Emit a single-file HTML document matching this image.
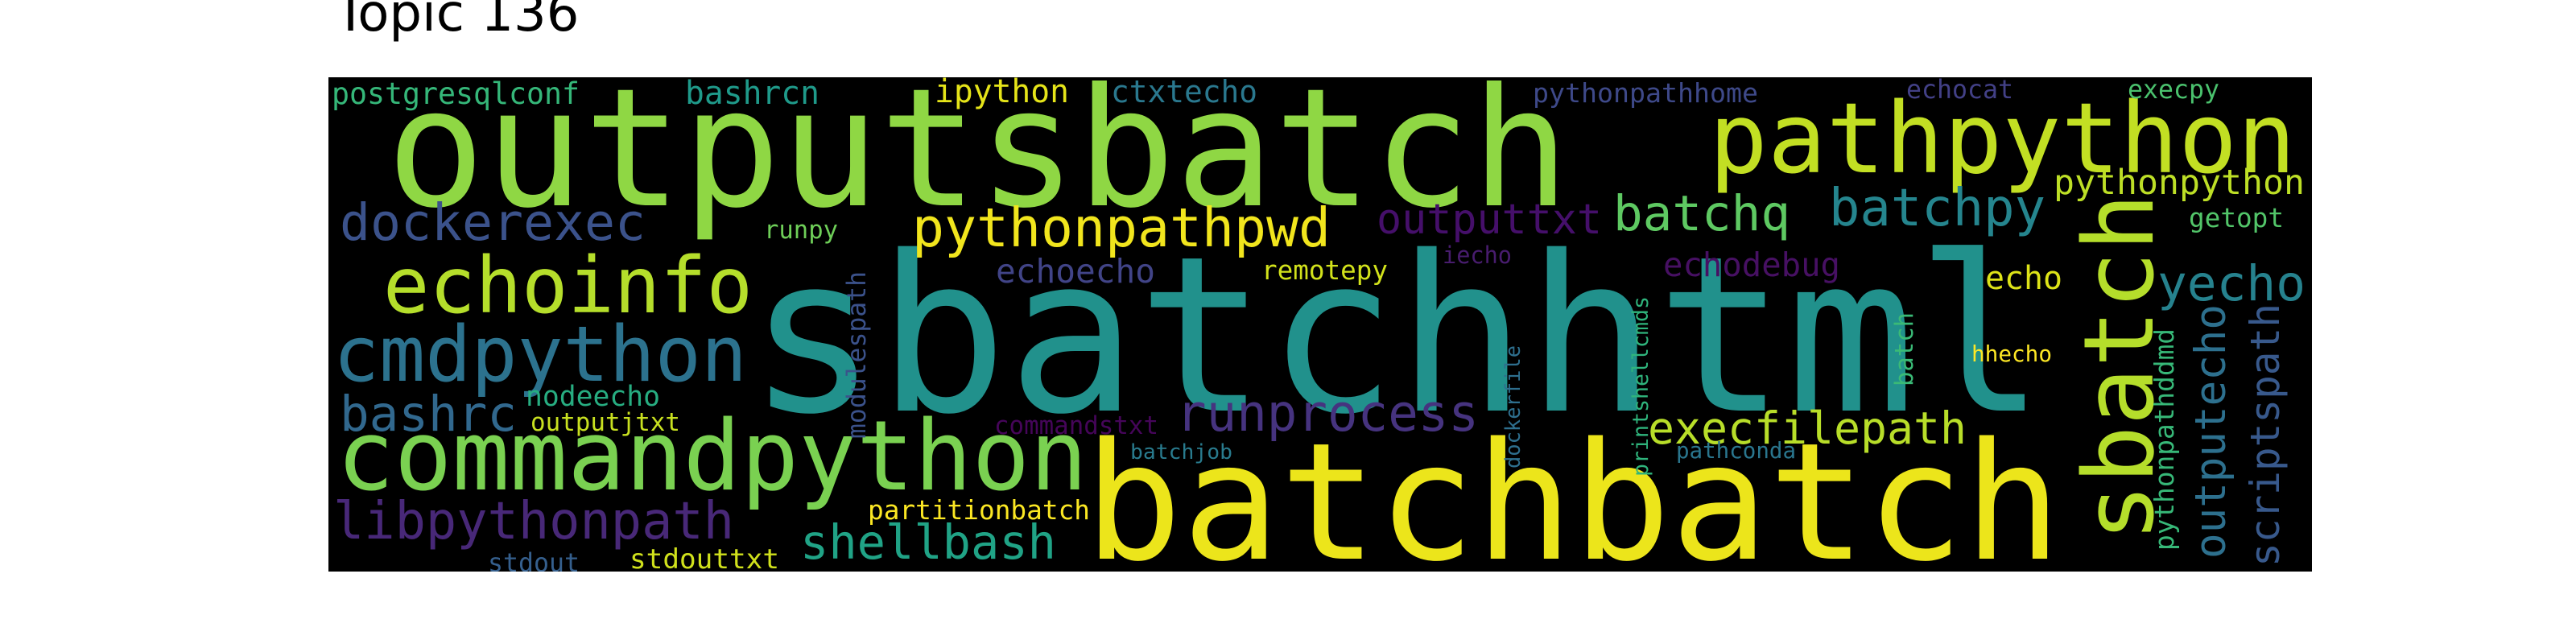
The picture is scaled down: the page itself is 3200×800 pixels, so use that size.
<!DOCTYPE html>
<html><head><meta charset="utf-8"><style>html,body{margin:0;padding:0;background:#fff;width:3200px;height:800px;overflow:hidden}</style></head>
<body>
<svg width="3200" height="800" xmlns="http://www.w3.org/2000/svg">
<defs><clipPath id="c"><rect x="408" y="96" width="2464" height="614"/></clipPath></defs>
<text x="416" y="38" font-family="DejaVu Sans, sans-serif" font-size="64" fill="#000">Topic 136</text>
<rect x="408" y="96" width="2464" height="614" fill="#000"/>
<g clip-path="url(#c)" font-family="DejaVu Sans Mono, Liberation Mono, monospace">
<text x="480" y="255" font-size="204" fill="#8fd744" textLength="1470" lengthAdjust="spacingAndGlyphs">outputsbatch</text>
<text x="929" y="510" font-size="269" fill="#21918c" textLength="1612" lengthAdjust="spacingAndGlyphs">sbatchhtml</text>
<text x="1347" y="694" font-size="202" fill="#ece51b" textLength="1214" lengthAdjust="spacingAndGlyphs">batchbatch</text>
<text x="2123" y="214" font-size="121" fill="#c2df23" textLength="729" lengthAdjust="spacingAndGlyphs">pathpython</text>
<text x="418" y="608" font-size="120" fill="#7ad151" textLength="933" lengthAdjust="spacingAndGlyphs">commandpython</text>
<text x="414" y="473" font-size="95" fill="#2c728e" textLength="514" lengthAdjust="spacingAndGlyphs">cmdpython</text>
<text x="476" y="388" font-size="96" fill="#b5de2b" textLength="459" lengthAdjust="spacingAndGlyphs">echoinfo</text>
<text x="422" y="298" font-size="63" fill="#3b528b" textLength="380" lengthAdjust="spacingAndGlyphs">dockerexec</text>
<text x="1133" y="306" font-size="67" fill="#f1e51d" textLength="520" lengthAdjust="spacingAndGlyphs">pythonpathpwd</text>
<text x="2004" y="286" font-size="61" fill="#5ec962" textLength="220" lengthAdjust="spacingAndGlyphs">batchq</text>
<text x="2272" y="280" font-size="64" fill="#25858e" textLength="269" lengthAdjust="spacingAndGlyphs">batchpy</text>
<text x="2680" y="373" font-size="61" fill="#26828e" textLength="184" lengthAdjust="spacingAndGlyphs">yecho</text>
<text x="2551" y="241" font-size="43" fill="#bddf26" textLength="312" lengthAdjust="spacingAndGlyphs">pythonpython</text>
<text x="1710" y="290" font-size="52" fill="#450f6a" textLength="280" lengthAdjust="spacingAndGlyphs">outputtxt</text>
<text x="1461" y="535" font-size="63" fill="#46337f" textLength="376" lengthAdjust="spacingAndGlyphs">runprocess</text>
<text x="2047" y="551" font-size="55" fill="#b8de29" textLength="396" lengthAdjust="spacingAndGlyphs">execfilepath</text>
<text x="994" y="694" font-size="59" fill="#20a386" textLength="318" lengthAdjust="spacingAndGlyphs">shellbash</text>
<text x="414" y="669" font-size="64" fill="#482878" textLength="498" lengthAdjust="spacingAndGlyphs">libpythonpath</text>
<text x="422" y="535" font-size="61" fill="#31688e" textLength="220" lengthAdjust="spacingAndGlyphs">bashrc</text>
<text x="412" y="129" font-size="37" fill="#35b779" textLength="308" lengthAdjust="spacingAndGlyphs">postgresqlconf</text>
<text x="851" y="129" font-size="40" fill="#1f9a8a" textLength="167" lengthAdjust="spacingAndGlyphs">bashrcn</text>
<text x="1161" y="127" font-size="40" fill="#e5e419" textLength="167" lengthAdjust="spacingAndGlyphs">ipython</text>
<text x="1380" y="127" font-size="38" fill="#2a788e" textLength="182" lengthAdjust="spacingAndGlyphs">ctxtecho</text>
<text x="1904" y="127" font-size="33" fill="#3e4989" textLength="280" lengthAdjust="spacingAndGlyphs">pythonpathhome</text>
<text x="2368" y="122" font-size="32" fill="#424086" textLength="133" lengthAdjust="spacingAndGlyphs">echocat</text>
<text x="2643" y="122" font-size="32" fill="#4ac16d" textLength="114" lengthAdjust="spacingAndGlyphs">execpy</text>
<text x="2719" y="282" font-size="33" fill="#52c569" textLength="118" lengthAdjust="spacingAndGlyphs">getopt</text>
<text x="949" y="296" font-size="31" fill="#6ece58" textLength="92" lengthAdjust="spacingAndGlyphs">runpy</text>
<text x="1237" y="351" font-size="41" fill="#414487" textLength="198" lengthAdjust="spacingAndGlyphs">echoecho</text>
<text x="1567" y="347" font-size="33" fill="#d2e21b" textLength="157" lengthAdjust="spacingAndGlyphs">remotepy</text>
<text x="1792" y="327" font-size="29" fill="#481c6e" textLength="86" lengthAdjust="spacingAndGlyphs">iecho</text>
<text x="2066" y="343" font-size="41" fill="#471063" textLength="220" lengthAdjust="spacingAndGlyphs">echodebug</text>
<text x="2466" y="359" font-size="40" fill="#dde318" textLength="96" lengthAdjust="spacingAndGlyphs">echo</text>
<text x="2449" y="449" font-size="28" fill="#fde725" textLength="100" lengthAdjust="spacingAndGlyphs">hhecho</text>
<text x="653" y="504" font-size="35" fill="#27ad81" textLength="167" lengthAdjust="spacingAndGlyphs">nodeecho</text>
<text x="659" y="535" font-size="31" fill="#c8e020" textLength="186" lengthAdjust="spacingAndGlyphs">outputjtxt</text>
<text x="1235" y="539" font-size="31" fill="#450559" textLength="204" lengthAdjust="spacingAndGlyphs">commandstxt</text>
<text x="1404" y="570" font-size="26" fill="#297b8e" textLength="127" lengthAdjust="spacingAndGlyphs">batchjob</text>
<text x="1078" y="645" font-size="33" fill="#fbe723" textLength="276" lengthAdjust="spacingAndGlyphs">partitionbatch</text>
<text x="606" y="710" font-size="32" fill="#355f8d" textLength="114" lengthAdjust="spacingAndGlyphs">stdout</text>
<text x="782" y="706" font-size="34" fill="#d0e11c" textLength="186" lengthAdjust="spacingAndGlyphs">stdouttxt</text>
<text x="2082" y="569" font-size="28" fill="#2a768e" textLength="149" lengthAdjust="spacingAndGlyphs">pathconda</text>
<text x="2674" y="673" font-size="120" fill="#b5de2b" transform="rotate(-90 2674 673)" textLength="433" lengthAdjust="spacingAndGlyphs">sbatch</text>
<text x="1075" y="545" font-size="32" fill="#3b528b" transform="rotate(-90 1075 545)" textLength="208" lengthAdjust="spacingAndGlyphs">modulespath</text>
<text x="1888" y="582" font-size="26" fill="#2e6f8e" transform="rotate(-90 1888 582)" textLength="153" lengthAdjust="spacingAndGlyphs">dockerfile</text>
<text x="2047" y="592" font-size="27" fill="#2fb47c" transform="rotate(-90 2047 592)" textLength="224" lengthAdjust="spacingAndGlyphs">printshellcmds</text>
<text x="2376" y="480" font-size="31" fill="#3aba76" transform="rotate(-90 2376 480)" textLength="92" lengthAdjust="spacingAndGlyphs">batch</text>
<text x="2700" y="684" font-size="33" fill="#37b878" transform="rotate(-90 2700 684)" textLength="276" lengthAdjust="spacingAndGlyphs">pythonpathddmd</text>
<text x="2764" y="694" font-size="53" fill="#2d708e" transform="rotate(-90 2764 694)" textLength="316" lengthAdjust="spacingAndGlyphs">outputecho</text>
<text x="2831" y="704" font-size="50" fill="#38598c" transform="rotate(-90 2831 704)" textLength="327" lengthAdjust="spacingAndGlyphs">scriptspath</text>
</g>
</svg>
</body></html>
